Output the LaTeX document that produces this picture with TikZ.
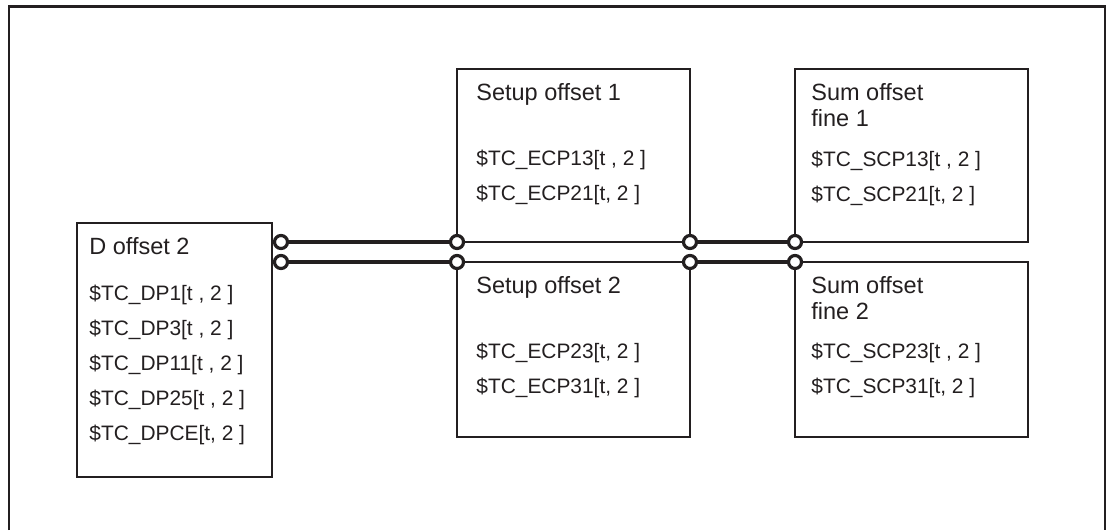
\documentclass[tikz,border=0pt]{standalone}
\usepackage{fontspec}
\setmainfont{Liberation Sans}
\usetikzlibrary{positioning, calc}

\definecolor{linegray}{HTML}{231F20}

\begin{document}
\begin{tikzpicture}[
        x=0.5pt, y=-0.5pt,
        block/.style={draw=linegray, line width=1pt, anchor=north west, inner sep=0pt, outer sep=0pt,
            minimum width=116.5pt, minimum height=86.5pt},
        title/.style={anchor=base west, inner sep=0pt, text=linegray, font=\fontsize{11.75}{14}\selectfont},
        entry/.style={anchor=base west, inner sep=0pt, text=linegray, font=\fontsize{10.45}{13}\selectfont},
        wire/.style={draw=linegray, line width=2.2pt},
        jack/.style={circle, draw=linegray, fill=white, line width=1.6pt, minimum size=6.5pt, inner sep=0pt}
    ]
        \useasboundingbox (0,0) rectangle (1111,530);
        % outer frame, open at the bottom
        \draw[linegray, line width=1.2pt] (9,530) -- (9,6.5) -- (1105,6.5) -- (1105,530);

        % blocks
        \node[block, minimum width=97.5pt, minimum height=127pt] (dbox) at (77,223) {};
        \node[block] (setupA) at (457,69) {};
        \node[block, minimum height=87.5pt, below=10pt of setupA] (setupB) {};
        \node[block, right=52.5pt of setupA] (sumA) {};
        \node[block, minimum height=87.5pt, right=52.5pt of setupB] (sumB) {};

        % texts
        \node[title] (dT) at ($(dbox.north west)+(12,31)$) {D offset 2};
        \foreach \s [count=\i] in {{\$TC\_DP1[t , 2 ]}, {\$TC\_DP3[t , 2 ]}, {\$TC\_DP11[t , 2 ]},
                {\$TC\_DP25[t , 2 ]}, {\$TC\_DPCE[t, 2 ]}}
            \node[entry] (d\i) at ($(dbox.north west)+(12,42+35*\i)$) {\s};

        \node[title] (sAT) at ($(setupA.north west)+(19,31)$) {Setup offset 1};
        \node[entry] (sA1) at ($(setupA.north west)+(19,96)$) {\$TC\_ECP13[t , 2 ]};
        \node[entry] (sA2) at ($(setupA.north west)+(19,131)$) {\$TC\_ECP21[t, 2 ]};

        \node[title] (sBT) at ($(setupB.north west)+(19,31)$) {Setup offset 2};
        \node[entry] (sB1) at ($(setupB.north west)+(19,96)$) {\$TC\_ECP23[t, 2 ]};
        \node[entry] (sB2) at ($(setupB.north west)+(19,131)$) {\$TC\_ECP31[t, 2 ]};

        \node[title] (mAT) at ($(sumA.north west)+(16,31)$) {Sum offset};
        \node[title] (mAT2) at ($(sumA.north west)+(16,57)$) {fine 1};
        \node[entry] (mA1) at ($(sumA.north west)+(16,97)$) {\$TC\_SCP13[t , 2 ]};
        \node[entry] (mA2) at ($(sumA.north west)+(16,132)$) {\$TC\_SCP21[t, 2 ]};

        \node[title] (mBT) at ($(sumB.north west)+(16,31)$) {Sum offset};
        \node[title] (mBT2) at ($(sumB.north west)+(16,57)$) {fine 2};
        \node[entry] (mB1) at ($(sumB.north west)+(16,96)$) {\$TC\_SCP23[t , 2 ]};
        \node[entry] (mB2) at ($(sumB.north west)+(16,131)$) {\$TC\_SCP31[t, 2 ]};

        % connection points
        \node[jack] (jA) at ($(dbox.east |- setupA.south west)+(9,0)$) {};
        \node[jack] (jB) at ($(dbox.east |- setupB.north west)+(9,0)$) {};
        \node[jack] (sAw) at (setupA.south west) {};
        \node[jack] (sBw) at (setupB.north west) {};
        \node[jack] (sAe) at (setupA.south east) {};
        \node[jack] (sBe) at (setupB.north east) {};
        \node[jack] (mAw) at (sumA.south west) {};
        \node[jack] (mBw) at (sumB.north west) {};

        \draw[wire] (jA) -- (sAw);
        \draw[wire] (jB) -- (sBw);
        \draw[wire] (sAe) -- (mAw);
        \draw[wire] (sBe) -- (mBw);
    \end{tikzpicture}
\end{document}
